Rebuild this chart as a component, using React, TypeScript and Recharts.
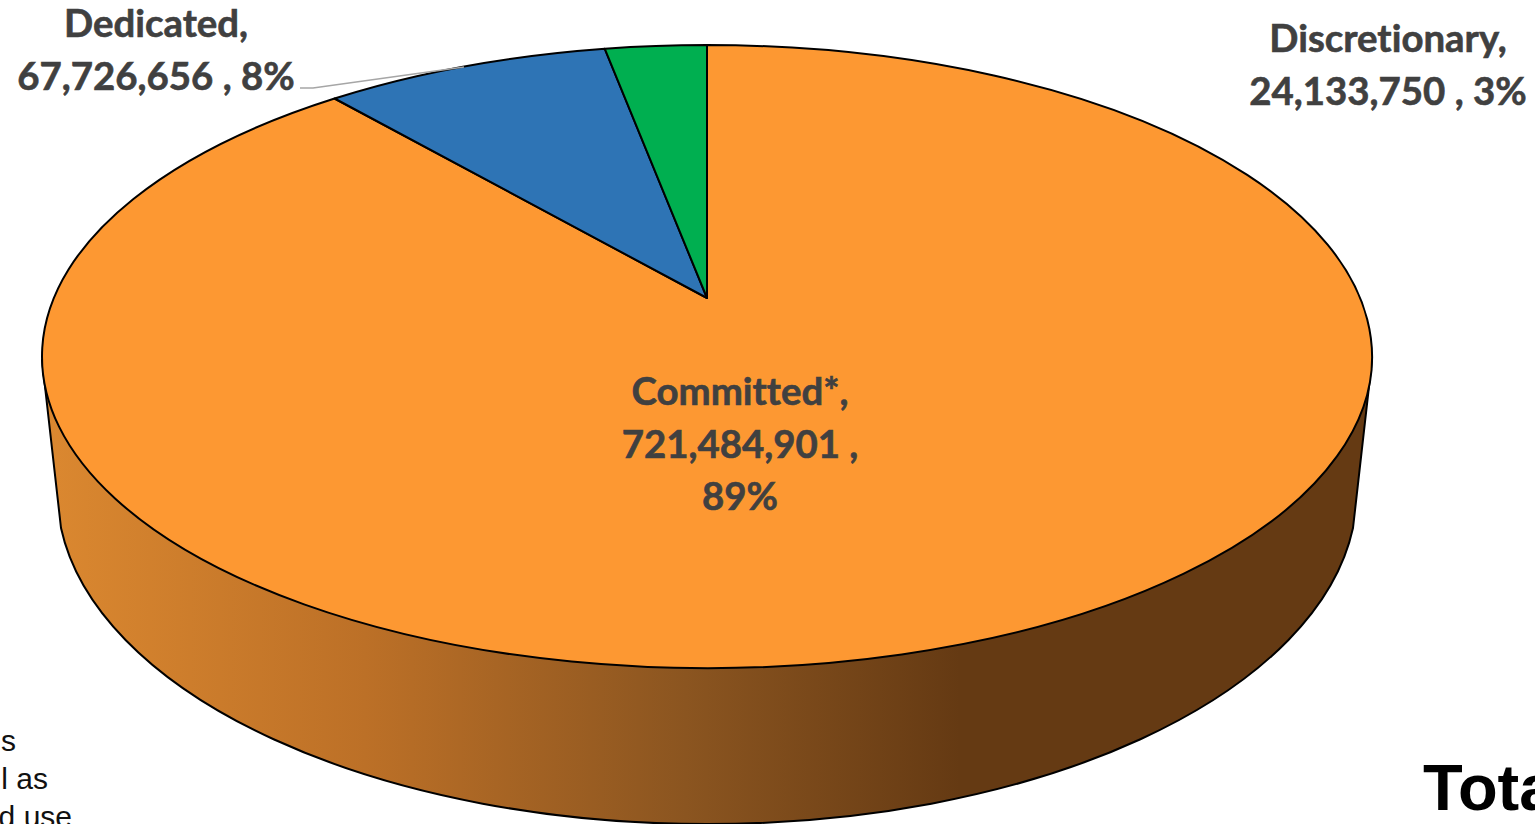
import { Pie, PieChart } from 'recharts'

const sliceNames = ['Committed*', 'Dedicated', 'Discretionary']
const sliceValues = [721484901, 67726656, 24133750]
const slicePercents = [89, 8, 3]
const sliceColors = ['#FD9832', '#2E74B5', '#00AF50']

const noteLines = ['s', 'l as', 'd use']
const totalLabel = 'Total'

const pieData = sliceNames.map((name, i) => ({
  name,
  value: sliceValues[i],
  percentLabel: slicePercents[i],
  fill: sliceColors[i],
}))

const TEXT_COLOR = '#404040'
const LABEL_FONT = 'Lato, sans-serif'
const NOTE_FONT = '"Liberation Sans", Arial, sans-serif'

// Tilted disc: front of the pie is nearer the viewer, so the apex sits above the rim's centre
const TILT = 0.188
const DISC_RY = 311.5

// Lower rim of the side wall, relative to the apex
const WALL = { rx: 650, ry: 333, cy: 192, edgeX: 646, edgeY: 230, topX: 665, topY: 62 }

function project(angle: number, cx: number, cy: number, radius: number) {
  const rad = (angle * Math.PI) / 180
  const s = 1 - TILT * TILT
  const x = Math.cos(rad)
  const y = Math.sin(rad)
  const w = 1 + TILT * y
  return {
    x: cx + (radius * Math.sqrt(s) * x) / w,
    y: cy - (DISC_RY * s * y) / w,
  }
}

function DiscSlice(props: any) {
  const { cx, cy, outerRadius, startAngle, endAngle, fill, index } = props
  const from = project(startAngle, cx, cy, outerRadius)
  const to = project(endAngle, cx, cy, outerRadius)
  const large = Math.abs(endAngle - startAngle) > 180 ? 1 : 0
  const top = `M${cx},${cy} L${from.x},${from.y} A${outerRadius},${DISC_RY} 0 ${large} 1 ${to.x},${to.y} Z`
  const wall =
    `M${cx - WALL.topX},${cy + WALL.topY} L${cx - WALL.edgeX},${cy + WALL.edgeY} ` +
    `A${WALL.rx},${WALL.ry} 0 0 0 ${cx + WALL.edgeX},${cy + WALL.edgeY} ` +
    `L${cx + WALL.topX},${cy + WALL.topY} Z`
  return (
    <g>
      {index === 0 && <path d={wall} fill="url(#wallShade)" stroke="#000" strokeWidth={2} strokeLinejoin="round" />}
      <path d={top} fill={fill} stroke="#000" strokeWidth={2} strokeLinejoin="round" />
    </g>
  )
}

const labelAnchors = [
  { x: 740, y: 405 },
  { x: 156, y: 37 },
  { x: 1388, y: 52 },
]

function SliceLabel(props: any) {
  const { index, payload } = props
  const d = payload?.payload ?? payload
  const at = labelAnchors[index]
  const amount = d.value.toLocaleString('en-US')
  // The big slice wraps its percentage onto a third line
  const lines =
    index === 0
      ? [`${d.name},`, `${amount} ,`, `${d.percentLabel}%`]
      : [`${d.name},`, `${amount} , ${d.percentLabel}%`]
  return (
    <g>
      {index === 1 && (
        <polyline points="300,88 313,88 464,67" fill="none" stroke="#A6A6A6" strokeWidth={1.5} />
      )}
      {lines.map((line, i) => (
        <text
          key={line}
          x={at.x}
          y={at.y + i * 52.5}
          textAnchor="middle"
          fontFamily={LABEL_FONT}
          fontWeight={700}
          fontSize={38.4}
          fill={TEXT_COLOR}
          stroke={TEXT_COLOR}
          strokeWidth={0.6}
          style={{ fontVariantLigatures: 'none' }}
        >
          {line}
        </text>
      ))}
    </g>
  )
}

export default function App() {
  return (
    <div style={{ position: 'absolute', left: 0, top: 0, width: 1535, height: 824, overflow: 'hidden', background: '#fff' }}>
      <PieChart width={1535} height={824} margin={{ top: 0, right: 0, bottom: 0, left: 0 }}>
        <defs>
          <linearGradient id="wallShade" gradientUnits="userSpaceOnUse" x1={45} y1={0} x2={960} y2={0}>
            <stop offset="0%" stopColor="#DB8830" />
            <stop offset="35%" stopColor="#BC7027" />
            <stop offset="70%" stopColor="#8B5520" />
            <stop offset="100%" stopColor="#653A13" />
          </linearGradient>
        </defs>
        <Pie
          data={pieData}
          dataKey="value"
          nameKey="name"
          cx={707}
          cy={298}
          outerRadius={665}
          startAngle={90}
          endAngle={-270}
          stroke="none"
          shape={DiscSlice}
          label={SliceLabel}
          labelLine={false}
          isAnimationActive={false}
        />
        {noteLines.map((line, i) => (
          <text key={line} x={[16, 48, 72][i]} y={751 + i * 38} textAnchor="end" fontFamily={NOTE_FONT} fontSize={30} fill="#111">
            {line}
          </text>
        ))}
        <text x={1423} y={810} fontFamily={NOTE_FONT} fontWeight={700} fontSize={65} fill="#000">
          {totalLabel}
        </text>
      </PieChart>
    </div>
  )
}
